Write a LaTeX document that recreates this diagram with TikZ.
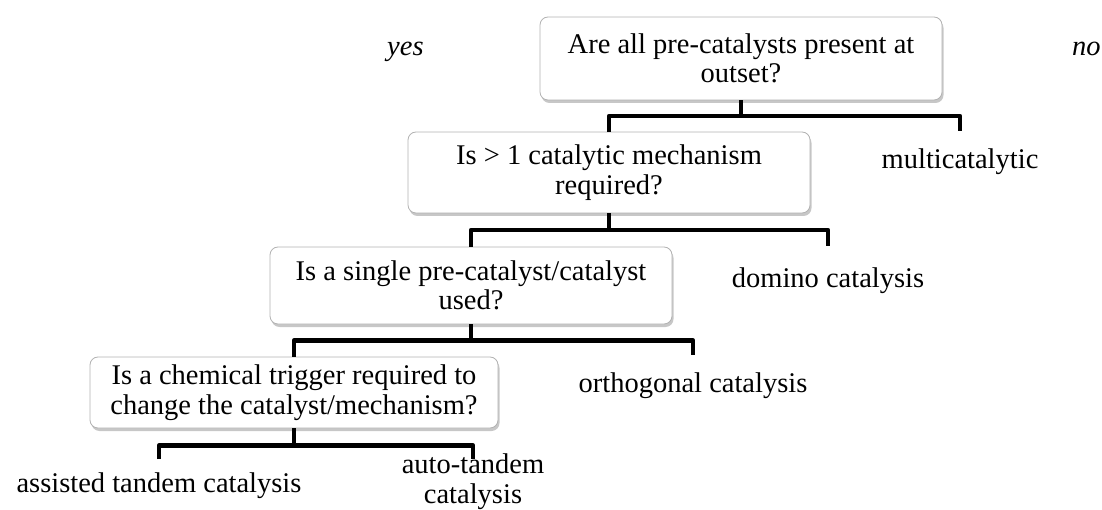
\documentclass[tikz,border=0pt]{standalone}
\usepackage{fontspec}
\setmainfont{Liberation Serif}
\usetikzlibrary{calc,shadows}

\tikzset{
  question/.style={draw=black!30,line width=0.8pt,rounded corners=8pt,fill=white,
    align=center,inner sep=0pt,font=\fontsize{28.5}{29.5}\selectfont,
    drop shadow={shadow xshift=1.5pt,shadow yshift=-3pt,fill=black,opacity=0.22}},
  leaf/.style={align=center,inner sep=0pt,font=\fontsize{28.5}{29.5}\selectfont},
  answer/.style={inner sep=0pt,font=\fontsize{28.5}{29.5}\selectfont\itshape},
  branch/.style={line width=4.5pt,line join=round}
}

\begin{document}
\begin{tikzpicture}[x=1pt,y=-1pt]
  \useasboundingbox (0,0) rectangle (1102,510);
  % Questions
  \node[question,minimum width=402pt,minimum height=83pt] (outset) at (741,58.5)
    {Are all pre-catalysts present at\\outset?};
  \node[question,minimum width=402pt,minimum height=81pt] (mech) at (609,172.5)
    {Is > 1 catalytic mechanism\\required?};
  \node[question,minimum width=402pt,minimum height=77pt] (single) at (471,285.5)
    {Is a single pre-catalyst/catalyst\\used?};
  \node[question,minimum width=408pt,minimum height=71pt] (trigger) at (294,392.5)
    {Is a chemical trigger required to\\change the catalyst/mechanism?};
  % Yes / no
  \node[answer,anchor=base west] (yes) at (387,56) {yes};
  \node[answer,anchor=base west] (no) at (1072,56) {no};
  % Ends of the drops
  \coordinate (multi-end) at (960,131);
  \coordinate (domino-end) at (828,246);
  \coordinate (ortho-end) at (693,355);
  \coordinate (assisted-end) at (159,459);
  \coordinate (auto-end) at (473,459);
  % Branches
  \foreach \up/\low/\last in {outset/mech/multi-end,mech/single/domino-end,single/trigger/ortho-end} {
    \coordinate (bar) at ($(\up.south)!0.5!(\up.south |- \low.north)$);
    \draw[branch] (\up.south) -- (bar);
    \draw[branch] (\low.north) |- (bar) -| (\last);
  }
  \coordinate (bar) at ($(trigger.south)+(0,17)$);
  \draw[branch] (trigger.south) -- (bar);
  \draw[branch] (assisted-end) |- (bar) -| (auto-end);
  % Outcomes
  \node[leaf,anchor=base] (multi) at (960,169) {multicatalytic};
  \node[leaf,anchor=base] (domino) at (828,288) {domino catalysis};
  \node[leaf,anchor=base] (ortho) at (693,392) {orthogonal catalysis};
  \node[leaf,anchor=base] (assisted) at (159,492) {assisted tandem catalysis};
  \node[leaf,anchor=base] (auto) at (473,503) {auto-tandem\\catalysis};
\end{tikzpicture}
\end{document}
